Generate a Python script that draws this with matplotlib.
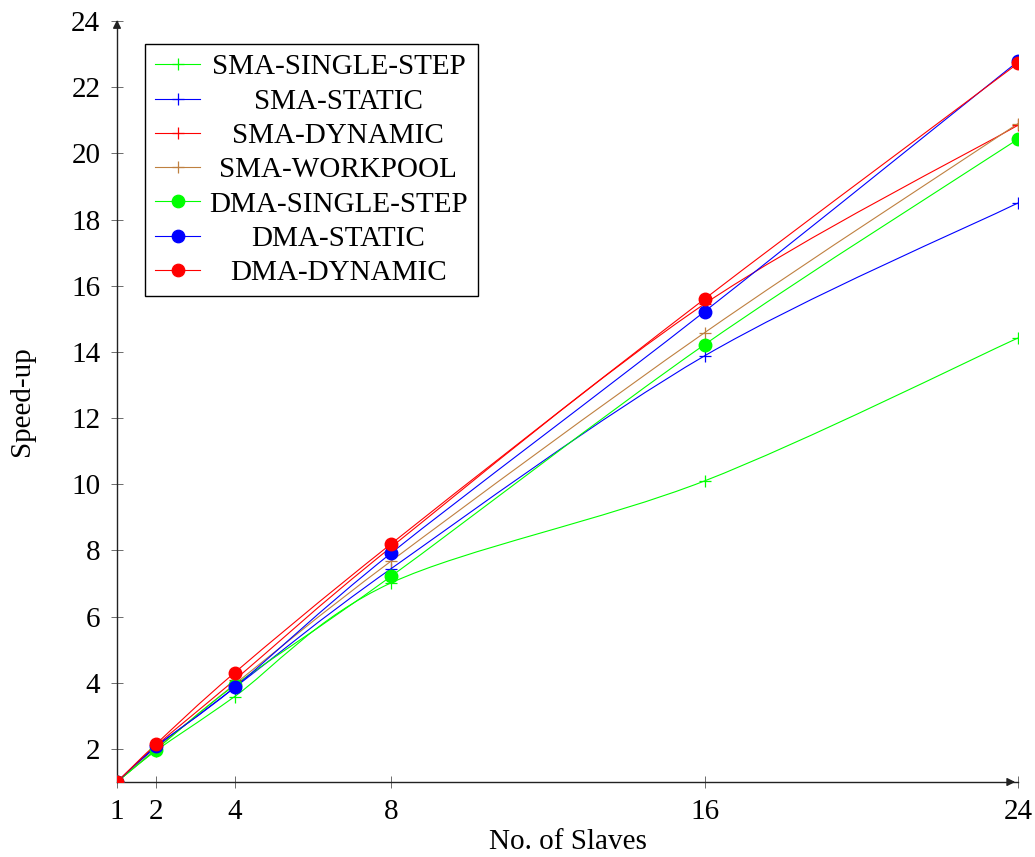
import matplotlib.pyplot as plt
import numpy as np
from matplotlib.path import Path
from matplotlib.patches import PathPatch
from matplotlib.lines import Line2D

slaves = [1, 2, 4, 8, 16, 24]

sma_single_step = [1, 1.95, 3.58, 7.02, 10.1, 14.42]
sma_static = [1, 2.05, 3.85, 7.45, 13.88, 18.5]
sma_dynamic = [1, 2.1, 4.08, 8.1, 15.45, 20.85]
sma_workpool = [1, 2.0, 3.95, 7.68, 14.58, 20.9]
dma_single_step = [1, 1.98, 3.92, 7.22, 14.22, 20.43]
dma_static = [1, 2.08, 3.86, 7.92, 15.22, 22.78]
dma_dynamic = [1, 2.15, 4.3, 8.2, 15.6, 22.72]

series = [
    ("SMA-SINGLE-STEP", sma_single_step, "#00ff00", "+"),
    ("SMA-STATIC", sma_static, "#0000ff", "+"),
    ("SMA-DYNAMIC", sma_dynamic, "#ff0000", "+"),
    ("SMA-WORKPOOL", sma_workpool, "#bf8040", "+"),
    ("DMA-SINGLE-STEP", dma_single_step, "#00ff00", "o"),
    ("DMA-STATIC", dma_static, "#0000ff", "o"),
    ("DMA-DYNAMIC", dma_dynamic, "#ff0000", "o"),
]

plt.rcParams["font.family"] = ["Liberation Serif", "DejaVu Serif"]
FS = 21


def smooth_path(xs, ys, k=0.16):
    # bezier path through the points, like tikz "smooth"
    pts = np.column_stack([xs, ys]).astype(float)
    n = len(pts)
    verts = [pts[0]]
    codes = [Path.MOVETO]
    for i in range(n - 1):
        p0 = pts[i - 1] if i > 0 else pts[i]
        p1 = pts[i]
        p2 = pts[i + 1]
        p3 = pts[i + 2] if i + 2 < n else pts[i + 1]
        c1 = p1 + (p2 - p0) * k
        c2 = p2 - (p3 - p1) * k
        verts += [c1, c2, p2]
        codes += [Path.CURVE4] * 3
    return Path(verts, codes)


fig = plt.figure(figsize=(10.35, 8.57), dpi=100)
ax = fig.add_axes([117 / 1035, 75 / 857, 901 / 1035, 761 / 857])

handles = []
for name, vals, color, marker in series:
    ax.add_patch(PathPatch(smooth_path(slaves, vals), fc="none", ec=color, lw=0.8, zorder=2))
    if marker == "+":
        ax.plot(slaves, vals, ls="none", marker="+", ms=9, mew=0.9, color=color, zorder=3)
    else:
        ax.plot(slaves, vals, ls="none", marker="o", ms=9, color=color, zorder=3)
    handles.append(Line2D([], [], color=color, lw=0.8, marker=marker,
                          ms=9 if marker == "o" else 9, mew=0.9, label=name))

ax.set_xlim(1, 24)
ax.set_ylim(1, 24)
ax.set_xticks(slaves)
ax.set_yticks(np.arange(2, 25, 2))
ax.tick_params(direction="inout", length=8, width=0.6, color="#555555",
               labelsize=FS)
ax.tick_params(axis="x", pad=8)
ax.tick_params(axis="y", pad=8)
ax.spines["top"].set_visible(False)
ax.spines["right"].set_visible(False)
for s in ["left", "bottom"]:
    ax.spines[s].set_linewidth(1.0)
    ax.spines[s].set_color("#222222")

ax.annotate("", xy=(1.0, 0), xytext=(0.99, 0), xycoords="axes fraction",
            arrowprops=dict(arrowstyle="-|>", color="#222222", lw=1.0,
                            mutation_scale=12), annotation_clip=False)
ax.annotate("", xy=(0, 1.005), xytext=(0, 0.99), xycoords="axes fraction",
            arrowprops=dict(arrowstyle="-|>", color="#222222", lw=1.0,
                            mutation_scale=12), annotation_clip=False)

ax.set_xlabel("No. of Slaves", fontsize=FS, labelpad=3)
ax.set_ylabel("Speed-up", fontsize=FS, labelpad=26)

leg = ax.legend(handles=handles, loc="upper left", bbox_to_anchor=(0.031, 0.97),
                fontsize=FS, frameon=True, fancybox=False, framealpha=1,
                edgecolor="black", handlelength=1.55, handletextpad=0.3,
                labelspacing=0.27, borderpad=0.35, borderaxespad=0)
leg.get_frame().set_linewidth(1.0)

# centre the legend entries as pgfplots does
fig.canvas.draw()
renderer = fig.canvas.get_renderer()
widths = [t.get_window_extent(renderer).width for t in leg.get_texts()]
wmax = max(widths)
for t, w in zip(leg.get_texts(), widths):
    t.set_position(((wmax - w) / 2, 0))

plt.savefig("out.png", dpi=100)
